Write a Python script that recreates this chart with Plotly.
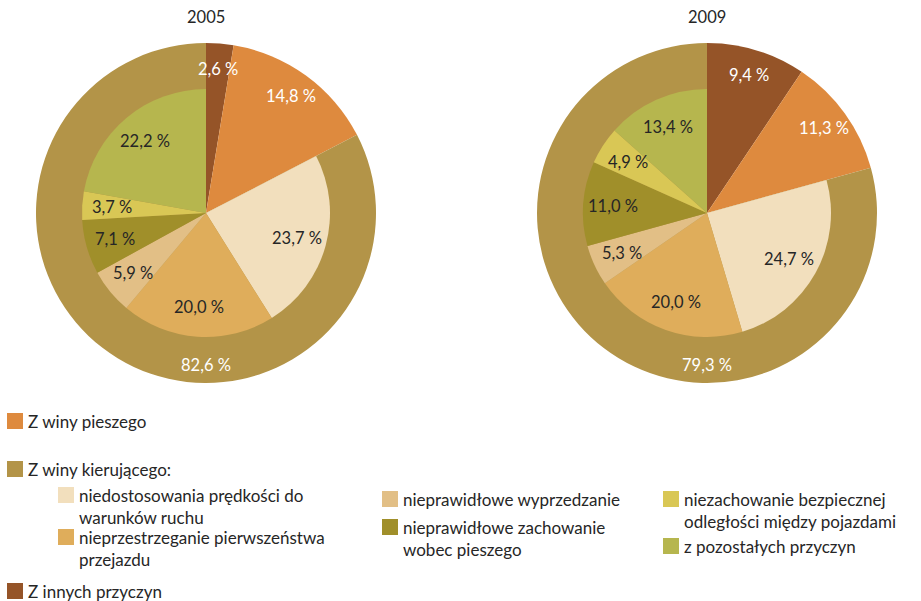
import math
import plotly.graph_objects as go

# --- data -------------------------------------------------------------
years = ["2005", "2009"]
other_causes = [2.6, 9.4]          # Z innych przyczyn
pedestrian_fault = [14.8, 11.3]    # Z winy pieszego
driver_fault = [82.6, 79.3]        # Z winy kierującego

driver_causes = [
    "niedostosowania prędkości do<br>warunków ruchu",
    "nieprzestrzeganie pierwszeństwa<br>przejazdu",
    "nieprawidłowe wyprzedzanie",
    "nieprawidłowe zachowanie<br>wobec pieszego",
    "niezachowanie bezpiecznej<br>odległości między pojazdami",
    "z pozostałych przyczyn",
]
driver_2005 = [23.7, 20.0, 5.9, 7.1, 3.7, 22.2]
driver_2009 = [24.7, 20.0, 5.3, 11.0, 4.9, 13.4]
driver_values = [driver_2005, driver_2009]

# --- styling ----------------------------------------------------------
W, H = 921, 601
FONT = "Lato"
TXT = "#262626"
C_OTHER = "#955428"
C_PED = "#DE8A3E"
C_DRV = "#B39448"
C_SUB = ["#F2DFBD", "#DFAD5B", "#E2BF86", "#A08F2A", "#D9C755", "#B6B64E"]
CENTERS = [(206, 213), (707, 213)]
R_OUT, R_IN = 170, 124


def fmt(v):
    return f"{v:.1f}".replace(".", ",") + " %"


def domain(cx, cy, r):
    return dict(x=[(cx - r) / W, (cx + r) / W], y=[1 - (cy + r) / H, 1 - (cy - r) / H])


def polar(cx, cy, r, pct):
    a = math.radians(pct / 100 * 360)
    return (cx + r * math.sin(a)) / W, 1 - (cy - r * math.cos(a)) / H


fig = go.Figure()
annotations = []

for i, year in enumerate(years):
    cx, cy = CENTERS[i]
    top = [other_causes[i], pedestrian_fault[i]]

    # outer pie: other / pedestrian / driver
    fig.add_trace(go.Pie(
        values=top + [driver_fault[i]],
        labels=["Z innych przyczyn", "Z winy pieszego", "Z winy kierującego"],
        marker=dict(colors=[C_OTHER, C_PED, C_DRV], line=dict(width=0)),
        sort=False, direction="clockwise", rotation=0,
        textinfo="none", hoverinfo="label+value",
        domain=domain(cx, cy, R_OUT), showlegend=False,
    ))
    # inner pie: driver breakdown (top slices transparent so the outer shows)
    fig.add_trace(go.Pie(
        values=top + driver_values[i],
        labels=["Z innych przyczyn", "Z winy pieszego"] + [c.replace("<br>", " ") for c in driver_causes],
        marker=dict(colors=["rgba(0,0,0,0)"] * 2 + C_SUB, line=dict(width=0)),
        sort=False, direction="clockwise", rotation=0,
        textinfo="none", hoverinfo="label+value",
        domain=domain(cx, cy, R_IN), showlegend=False,
    ))

    # slice labels
    cum = 0
    for v in top:
        x, y = polar(cx, cy, R_OUT * 0.85, cum + v / 2)
        annotations.append(dict(x=x, y=y, text=fmt(v), font=dict(color="white", size=16.5)))
        cum += v
    for v in driver_values[i]:
        x, y = polar(cx, cy, R_IN * 0.76, cum + v / 2)
        annotations.append(dict(x=x, y=y, text=fmt(v), font=dict(color=TXT, size=16.5)))
        cum += v
    x, y = polar(cx, cy, R_OUT * 0.895, 50)
    annotations.append(dict(x=x, y=y, text=fmt(driver_fault[i]), font=dict(color="white", size=16.5)))

    # year title
    annotations.append(dict(x=cx / W, y=1 - 17 / H, text=year, font=dict(color=TXT, size=16.5)))

for a in annotations:
    a.update(xanchor="center", yanchor="middle")

# --- custom legend ----------------------------------------------------
shapes = []
legend_items = [
    # (color, label, square left, square top)
    (C_PED, "Z winy pieszego", 7, 413),
    (C_DRV, "Z winy kierującego:", 7, 461),
    (C_SUB[0], driver_causes[0], 58, 487),
    (C_SUB[1], driver_causes[1], 58, 529),
    (C_OTHER, "Z innych przyczyn", 7, 583),
    (C_SUB[2], driver_causes[2], 382, 491),
    (C_SUB[3], driver_causes[3], 382, 519),
    (C_SUB[4], driver_causes[4], 663, 491),
    (C_SUB[5], driver_causes[5], 663, 538),
]
for color, label, sx, sy in legend_items:
    shapes.append(dict(type="rect", xref="paper", yref="paper",
                       x0=sx / W, x1=(sx + 16) / W, y0=1 - (sy + 16) / H, y1=1 - sy / H,
                       fillcolor=color, line=dict(width=0)))
    annotations.append(dict(x=(sx + 19) / W, y=1 - (sy - 4) / H, text=label,
                            xanchor="left", yanchor="top", align="left",
                            font=dict(color=TXT, size=17)))

for a in annotations:
    a.update(xref="paper", yref="paper", showarrow=False)

fig.update_layout(
    width=W, height=H,
    margin=dict(l=0, r=0, t=0, b=0),
    paper_bgcolor="white", plot_bgcolor="white",
    font=dict(family=FONT, color=TXT),
    annotations=annotations, shapes=shapes,
)

fig.write_html("out.html", config={"displayModeBar": False},
               post_script="document.body.style.margin='0';")
